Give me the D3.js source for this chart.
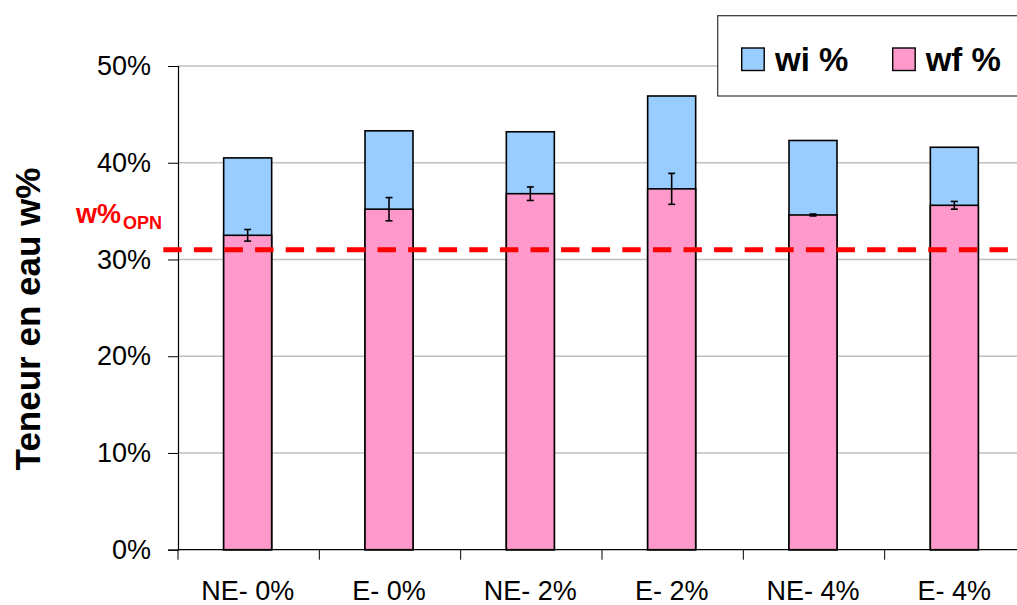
<!DOCTYPE html>
<html>
<head>
<meta charset="utf-8">
<script src="https://cdn.jsdelivr.net/npm/d3@7/dist/d3.min.js"></script>
<style>
  html, body { margin: 0; padding: 0; background: #fff; }
  svg { display: block; font-family: "Liberation Sans", Arial, sans-serif; }
</style>
</head>
<body>
<svg id="chart" width="1017" height="605"></svg>
<script>
// ---- data ----
const categories = ["NE- 0%", "E- 0%", "NE- 2%", "E- 2%", "NE- 4%", "E- 4%"];
const wiValues = [40.5, 43.3, 43.2, 46.9, 42.3, 41.6];
const wfValues = [32.5, 35.2, 36.8, 37.3, 34.6, 35.6];
const wfErrors = [0.6, 1.2, 0.7, 1.6, 0.1, 0.4];
const yTicks = [0, 10, 20, 30, 40, 50];
const opnValue = 31;
const seriesNames = ["wi %", "wf %"];

(function () {
// ---- layout ----
const svg = d3.select("#chart");
const mLeft = 178, mRight = 1026, mTop = 66, mBottom = 549.7;
const colors = { wi: "#99ccff", wf: "#ff99cc" };

const xOuter = d3.scaleBand().domain(categories).range([mLeft, mRight]);
const y = d3.scaleLinear().domain([0, 50]).range([mBottom, mTop]);

// gridlines
svg.append("g").selectAll("line").data(yTicks.filter(t => t > 0)).join("line")
  .attr("x1", mLeft).attr("x2", 1017)
  .attr("y1", d => y(d)).attr("y2", d => y(d))
  .attr("stroke", "#c0c0c0").attr("stroke-width", 1.5);

const bw = 48;
const cxOf = d => xOuter(d) + xOuter.bandwidth() / 2 - 1;
const bx = d => cxOf(d) - bw / 2;

// wi bars
svg.append("g").selectAll("rect").data(categories).join("rect")
  .attr("x", d => bx(d)).attr("width", bw)
  .attr("y", (d, i) => y(wiValues[i]))
  .attr("height", (d, i) => mBottom - y(wiValues[i]))
  .attr("fill", colors.wi).attr("stroke", "#000").attr("stroke-width", 1.6);

// wf bars
svg.append("g").selectAll("rect").data(categories).join("rect")
  .attr("x", d => bx(d)).attr("width", bw)
  .attr("y", (d, i) => y(wfValues[i]))
  .attr("height", (d, i) => mBottom - y(wfValues[i]))
  .attr("fill", colors.wf).attr("stroke", "#000").attr("stroke-width", 1.6);

// error bars
const eg = svg.append("g").attr("stroke", "#000").attr("stroke-width", 1.6);
categories.forEach((c, i) => {
  const cx = cxOf(c);
  const y1 = y(wfValues[i] + wfErrors[i]), y2 = y(wfValues[i] - wfErrors[i]);
  eg.append("line").attr("x1", cx).attr("x2", cx).attr("y1", y1).attr("y2", y2);
  eg.append("line").attr("x1", cx - 3.5).attr("x2", cx + 3.5).attr("y1", y1).attr("y2", y1);
  eg.append("line").attr("x1", cx - 3.5).attr("x2", cx + 3.5).attr("y1", y2).attr("y2", y2);
});

// y axis
const yAxis = d3.axisLeft(y).tickValues(yTicks).tickFormat(d => d + "%").tickSize(10).tickPadding(17);
const ya = svg.append("g").attr("transform", `translate(${mLeft},0)`).call(yAxis);
ya.select(".domain").attr("stroke", "#000").attr("stroke-width", 1.2);
ya.selectAll(".tick line").attr("stroke", "#000").attr("stroke-width", 1);
ya.selectAll(".tick text").attr("font-size", 27).attr("fill", "#000")
  .attr("font-family", "'Liberation Sans', Arial, sans-serif");

// x axis
const xa = svg.append("g").attr("transform", `translate(0,${mBottom})`);
xa.append("line").attr("x1", mLeft).attr("x2", 1017).attr("y1", 0).attr("y2", 0)
  .attr("stroke", "#000").attr("stroke-width", 1.2);
xa.selectAll("line.tk").data(categories).join("line").attr("class", "tk")
  .attr("x1", d => xOuter(d)).attr("x2", d => xOuter(d))
  .attr("y1", 0).attr("y2", 10).attr("stroke", "#000").attr("stroke-width", 1);
xa.selectAll("text").data(categories).join("text")
  .attr("x", d => cxOf(d))
  .attr("y", 50)
  .attr("text-anchor", "middle").attr("font-size", 27).attr("fill", "#000")
  .text(d => d);

// y axis title
svg.append("text")
  .attr("transform", "translate(40,319) rotate(-90)")
  .attr("text-anchor", "middle").attr("font-size", 35).attr("font-weight", "bold")
  .attr("fill", "#000").text("Teneur en eau w%");

// OPN dashed line
svg.append("line")
  .attr("x1", 163.3).attr("x2", 1017)
  .attr("y1", y(opnValue)).attr("y2", y(opnValue))
  .attr("stroke", "#ff0000").attr("stroke-width", 5)
  .attr("stroke-dasharray", "18.4,12.2");

const lab = svg.append("text").attr("x", 76).attr("y", 223.3)
  .attr("fill", "#ff0000").attr("font-weight", "bold").attr("font-size", 27);
lab.append("tspan").text("w%");
lab.append("tspan").attr("font-size", 18).attr("dy", 6).attr("dx", 2).text("OPN");

// legend
const lg = svg.append("g");
lg.append("rect").attr("x", 717.7).attr("y", 15.7).attr("width", 320).attr("height", 80.3)
  .attr("fill", "#fff").attr("stroke", "#333").attr("stroke-width", 1.2);
const legendItems = [
  { name: seriesNames[0], color: colors.wi, sx: 741.7, tx: 775 },
  { name: seriesNames[1], color: colors.wf, sx: 892.7, tx: 925.7 }
];
legendItems.forEach(it => {
  lg.append("rect").attr("x", it.sx).attr("y", 48).attr("width", 22.5).attr("height", 22.5)
    .attr("fill", it.color).attr("stroke", "#000").attr("stroke-width", 1.4);
  lg.append("text").attr("x", it.tx).attr("y", 70.7)
    .attr("font-size", 33).attr("font-weight", "bold").attr("fill", "#000").text(it.name);
});
})();
</script>
</body>
</html>
